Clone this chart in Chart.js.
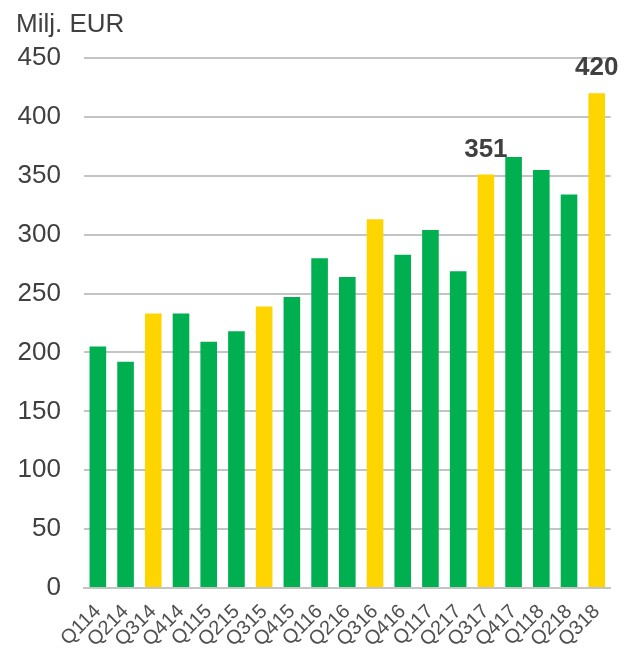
<!DOCTYPE html>
<html>
<head>
<meta charset="utf-8">
<script src="https://cdn.jsdelivr.net/npm/chart.js@4"></script>
<style>
  html, body { margin: 0; padding: 0; background: #fff; }
  #wrap { width: 626px; height: 648px; }
</style>
</head>
<body>
<div id="wrap"><canvas id="myChart" width="626" height="648"></canvas></div>
<script>
// quarters and values (Milj. EUR)
var quarters = ['Q114', 'Q214', 'Q314', 'Q414', 'Q115', 'Q215', 'Q315', 'Q415', 'Q116', 'Q216',
                'Q316', 'Q416', 'Q117', 'Q217', 'Q317', 'Q417', 'Q118', 'Q218', 'Q318'];
var values = [205, 192, 233, 233, 209, 218, 239, 247, 280, 264,
              313, 283, 304, 269, 351, 366, 355, 334, 420];
// Q3 bars are yellow
var highlighted = ['Q314', 'Q315', 'Q316', 'Q317', 'Q318'];
// bars that get a value label
var labelled = ['Q317', 'Q318'];
var yTicks = [0, 50, 100, 150, 200, 250, 300, 350, 400, 450];

var green = '#00b050';
var yellow = '#ffd500';
var font = "'Liberation Sans', Arial, sans-serif";

var colors = quarters.map(function(q) {
    return highlighted.indexOf(q) >= 0 ? yellow : green;
});

// unit title + value labels
var extras = {
    id: 'extras',
    afterDraw: function(chart) {
        var ctx = chart.ctx;
        ctx.save();
        ctx.fillStyle = '#404040';
        ctx.font = '26px ' + font;
        ctx.textAlign = 'left';
        ctx.textBaseline = 'alphabetic';
        ctx.fillText('Milj. EUR', 16, 32);

        var meta = chart.getDatasetMeta(0);
        ctx.font = 'bold 26px ' + font;
        ctx.textAlign = 'center';
        quarters.forEach(function(q, i) {
            if (labelled.indexOf(q) < 0) return;
            var bar = meta.data[i];
            ctx.fillText(String(values[i]), bar.x, bar.y - 18);
        });
        ctx.restore();
    }
};

var ctx = document.getElementById('myChart').getContext('2d');
var myChart = new Chart(ctx, {
    type: 'bar',
    data: {
        labels: quarters,
        datasets: [{
            data: values,
            backgroundColor: colors,
            borderWidth: 0,
            categoryPercentage: 1.0,
            barPercentage: 0.6
        }]
    },
    options: {
        responsive: false,
        animation: false,
        layout: { padding: { top: 58, right: 11, left: 0, bottom: 0 } },
        plugins: {
            legend: { display: false },
            tooltip: { enabled: false }
        },
        scales: {
            x: {
                grid: { display: false, drawTicks: false },
                border: { display: true, color: '#c4c4c4', width: 2 },
                ticks: {
                    color: '#505050',
                    font: { family: font, size: 20 },
                    minRotation: 45,
                    maxRotation: 45,
                    autoSkip: false,
                    padding: 12
                },
                afterFit: function(scale) { scale.height = 60; }
            },
            y: {
                min: 0,
                max: 450,
                afterBuildTicks: function(scale) {
                    scale.ticks = yTicks.map(function(v) { return { value: v }; });
                },
                grid: { color: '#c4c4c4', lineWidth: 2, drawTicks: false },
                border: { display: false },
                ticks: {
                    color: '#404040',
                    font: { family: font, size: 26 },
                    padding: 23
                },
                afterFit: function(scale) { scale.width = 84; }
            }
        }
    },
    plugins: [extras]
});
</script>
</body>
</html>
